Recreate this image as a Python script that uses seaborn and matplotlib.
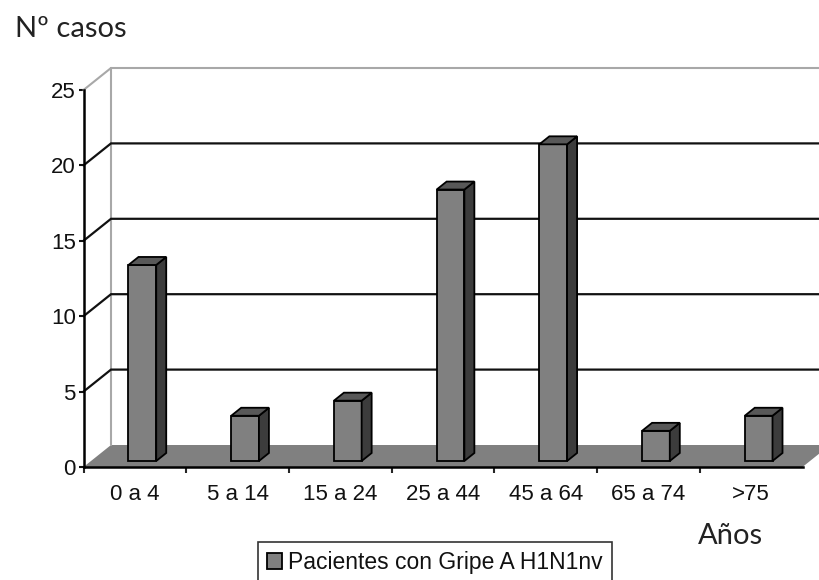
import matplotlib
matplotlib.use("Agg")
import matplotlib.pyplot as plt
import matplotlib.transforms as mtransforms
from matplotlib.patches import Polygon, Patch
import seaborn as sns
import pandas as pd

# Cases by age group
grupos = ["0 a 4", "5 a 14", "15 a 24", "25 a 44", "45 a 64", "65 a 74", ">75"]
casos = [13, 3, 4, 18, 21, 2, 3]
y_ticks = [0, 5, 10, 15, 20, 25]
serie = "Pacientes con Gripe A H1N1nv"

sns.set_style("white")
plt.rcParams["font.family"] = ["Liberation Sans", "DejaVu Sans"]

W, H, DPI = 819, 580, 100
fig = plt.figure(figsize=(W / DPI, H / DPI), dpi=DPI)
fig.patch.set_facecolor("white")

# front plane of the pseudo-3D box
x0, x1 = 83.5, 802.5      # px
y0, y1 = 467.0, 90.0      # px from top (value 0 and value 25)
ax = fig.add_axes([x0 / W, (H - y0) / H, (x1 - x0) / W, (y0 - y1) / H])
ax.set_facecolor("none")

n = len(grupos)
px_x = (x1 - x0) / n          # px per category
px_y = (y0 - y1) / 25.0       # px per unit

# depth of the box (back wall offset) in data units
DX = 27.5 / px_x
DY = 22.0 / px_y

df = pd.DataFrame({"grupo": grupos, "casos": casos})
sns.barplot(data=df, x="grupo", y="casos", color="#808080", saturation=1,
            width=0.27, edgecolor="black", linewidth=1.3, ax=ax, zorder=5)

ax.set_xlim(-0.5, n - 0.5)
ax.set_ylim(0, 25)

# floor
floor = Polygon([(-0.5, 0), (n - 0.5, 0), (n - 0.5 + DX, DY), (-0.5 + DX, DY)],
                closed=True, facecolor="#808080", edgecolor="none",
                clip_on=False, zorder=1)
ax.add_patch(floor)

far_right = n + 1.0
# back wall frame
ax.plot([-0.5 + DX, -0.5 + DX], [DY, 25 + DY], color="#a8a8a8", lw=1.5,
        clip_on=False, zorder=2)
ax.plot([-0.5 + DX, far_right], [25 + DY, 25 + DY], color="#a8a8a8", lw=1.5,
        clip_on=False, zorder=2)
ax.plot([-0.5, -0.5 + DX], [25, 25 + DY], color="#a8a8a8", lw=1.5,
        clip_on=False, zorder=2)
# gridlines on the side and back walls
for v in y_ticks[1:-1]:
    ax.plot([-0.5, -0.5 + DX, far_right], [v, v + DY, v + DY], color="#111111",
            lw=1.6, clip_on=False, zorder=2, solid_joinstyle="miter")

# bars sit a little inside the box depth
offset = mtransforms.ScaledTranslation(7.5 / DPI, 6.0 / DPI, fig.dpi_scale_trans)
trans = ax.transData + offset
bx = 10.0 / px_x
by = 8.0 / px_y
for p in list(ax.patches):
    if p is floor:
        continue
    p.set_transform(trans)
    p.set_clip_on(False)
    xl = p.get_x()
    w = p.get_width()
    h = p.get_height()
    xr = xl + w
    side = Polygon([(xr, 0), (xr + bx, by), (xr + bx, h + by), (xr, h)],
                   closed=True, facecolor="#3c3c3c", edgecolor="black",
                   lw=1.3, transform=trans, clip_on=False, zorder=5)
    top = Polygon([(xl, h), (xr, h), (xr + bx, h + by), (xl + bx, h + by)],
                  closed=True, facecolor="#585858", edgecolor="black",
                  lw=1.3, transform=trans, clip_on=False, zorder=5)
    ax.add_patch(side)
    ax.add_patch(top)

# axes lines and ticks
for s in ["top", "right"]:
    ax.spines[s].set_visible(False)
for s in ["left", "bottom"]:
    ax.spines[s].set_color("black")
    ax.spines[s].set_linewidth(1.8)
    ax.spines[s].set_zorder(6)

ax.set_yticks(y_ticks)
ax.set_yticklabels([str(v) for v in y_ticks])
ax.tick_params(axis="y", direction="out", length=3.5, width=1.5, pad=2,
               labelsize=16, colors="#111111", left=True)

ax.set_xticks([i - 0.5 for i in range(n)])
ax.set_xticklabels([""] * n)
ax.set_xticks(range(n), minor=True)
ax.set_xticklabels(grupos, minor=True)
ax.tick_params(axis="x", which="major", direction="out", length=4, width=1.5,
               bottom=True)
ax.tick_params(axis="x", which="minor", length=0, pad=12.5, labelsize=16,
               colors="#111111")
ax.set_xlabel("")
ax.set_ylabel("")

fig.text(15 / W, 1 - 37 / H, "Nº casos", fontsize=21, color="#222222",
         family=["Lato", "DejaVu Sans"], ha="left", va="baseline")
fig.text(698 / W, 1 - 544 / H, "Años", fontsize=21, color="#222222",
         family=["Lato", "DejaVu Sans"], ha="left", va="baseline")

leg = fig.legend(handles=[Patch(facecolor="#808080", edgecolor="black", lw=1.3)],
                 labels=[serie], loc="upper left",
                 bbox_to_anchor=(258 / W, 1 - 542 / H), borderaxespad=0,
                 fontsize=16.5, frameon=True, fancybox=False,
                 handlelength=0.65, handleheight=0.65, handletextpad=0.25,
                 borderpad=0.4)
leg.get_frame().set_edgecolor("black")
leg.get_frame().set_linewidth(1.2)
for t in leg.get_texts():
    t.set_color("#111111")

fig.savefig("out.png", dpi=DPI, facecolor="white")
